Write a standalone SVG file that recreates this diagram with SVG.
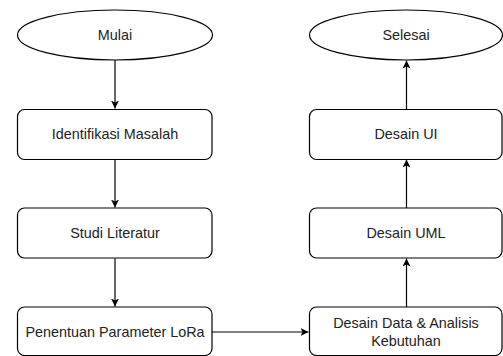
<svg xmlns="http://www.w3.org/2000/svg" width="503" height="356" viewBox="0 0 503 356">
<style>
.n{fill:#fff;stroke:#000;stroke-width:1.2}
.t{font-family:"Liberation Sans",Arial,sans-serif;font-size:14.4px;fill:#222;text-anchor:middle}
.c{stroke:#000;stroke-width:1.2;fill:none;marker-end:url(#ah)}
</style>
<defs>
<marker id="ah" markerWidth="10" markerHeight="10" refX="8" refY="4" orient="auto" markerUnits="userSpaceOnUse">
<path d="M0,0 L8,4 L0,8 L2,4 Z" fill="#000"/>
</marker>
</defs>
<rect width="503" height="356" fill="#fff"/>
<g id="connectors">
<line class="c" x1="115" y1="60" x2="115" y2="108.5"/>
<line class="c" x1="115" y1="159.5" x2="115" y2="207.5"/>
<line class="c" x1="115" y1="258.5" x2="115" y2="306.5"/>
<line class="c" x1="212" y1="332" x2="308.5" y2="332"/>
<line class="c" x1="406.5" y1="307" x2="406.5" y2="258.5"/>
<line class="c" x1="406.5" y1="208" x2="406.5" y2="159.5"/>
<line class="c" x1="406.5" y1="109" x2="406.5" y2="60.5"/>
</g>
<g id="mulai">
<ellipse class="n" cx="115" cy="35" rx="97.5" ry="25"/>
<text class="t" x="115" y="40">Mulai</text>
</g>
<g id="identifikasi">
<rect class="n" x="17.5" y="109.5" width="194.5" height="50" rx="7"/>
<text class="t" x="115" y="139">Identifikasi Masalah</text>
</g>
<g id="studi">
<rect class="n" x="17.5" y="208" width="194.5" height="50" rx="7"/>
<text class="t" x="115" y="238">Studi Literatur</text>
</g>
<g id="penentuan">
<rect class="n" x="17.5" y="307" width="194.5" height="48.5" rx="7"/>
<text class="t" x="115" y="337">Penentuan Parameter LoRa</text>
</g>
<g id="desain-data">
<rect class="n" x="309.5" y="307" width="192.5" height="48.5" rx="7"/>
<text class="t" x="406" y="327.5">Desain Data &amp; Analisis</text>
<text class="t" x="406" y="345.5">Kebutuhan</text>
</g>
<g id="desain-uml">
<rect class="n" x="309.5" y="208" width="192.5" height="50" rx="7"/>
<text class="t" x="406" y="238">Desain UML</text>
</g>
<g id="desain-ui">
<rect class="n" x="309.5" y="109.5" width="192.5" height="50" rx="7"/>
<text class="t" x="406" y="139">Desain UI</text>
</g>
<g id="selesai">
<ellipse class="n" cx="406" cy="35" rx="96.5" ry="25"/>
<text class="t" x="406" y="40">Selesai</text>
</g>
</svg>
